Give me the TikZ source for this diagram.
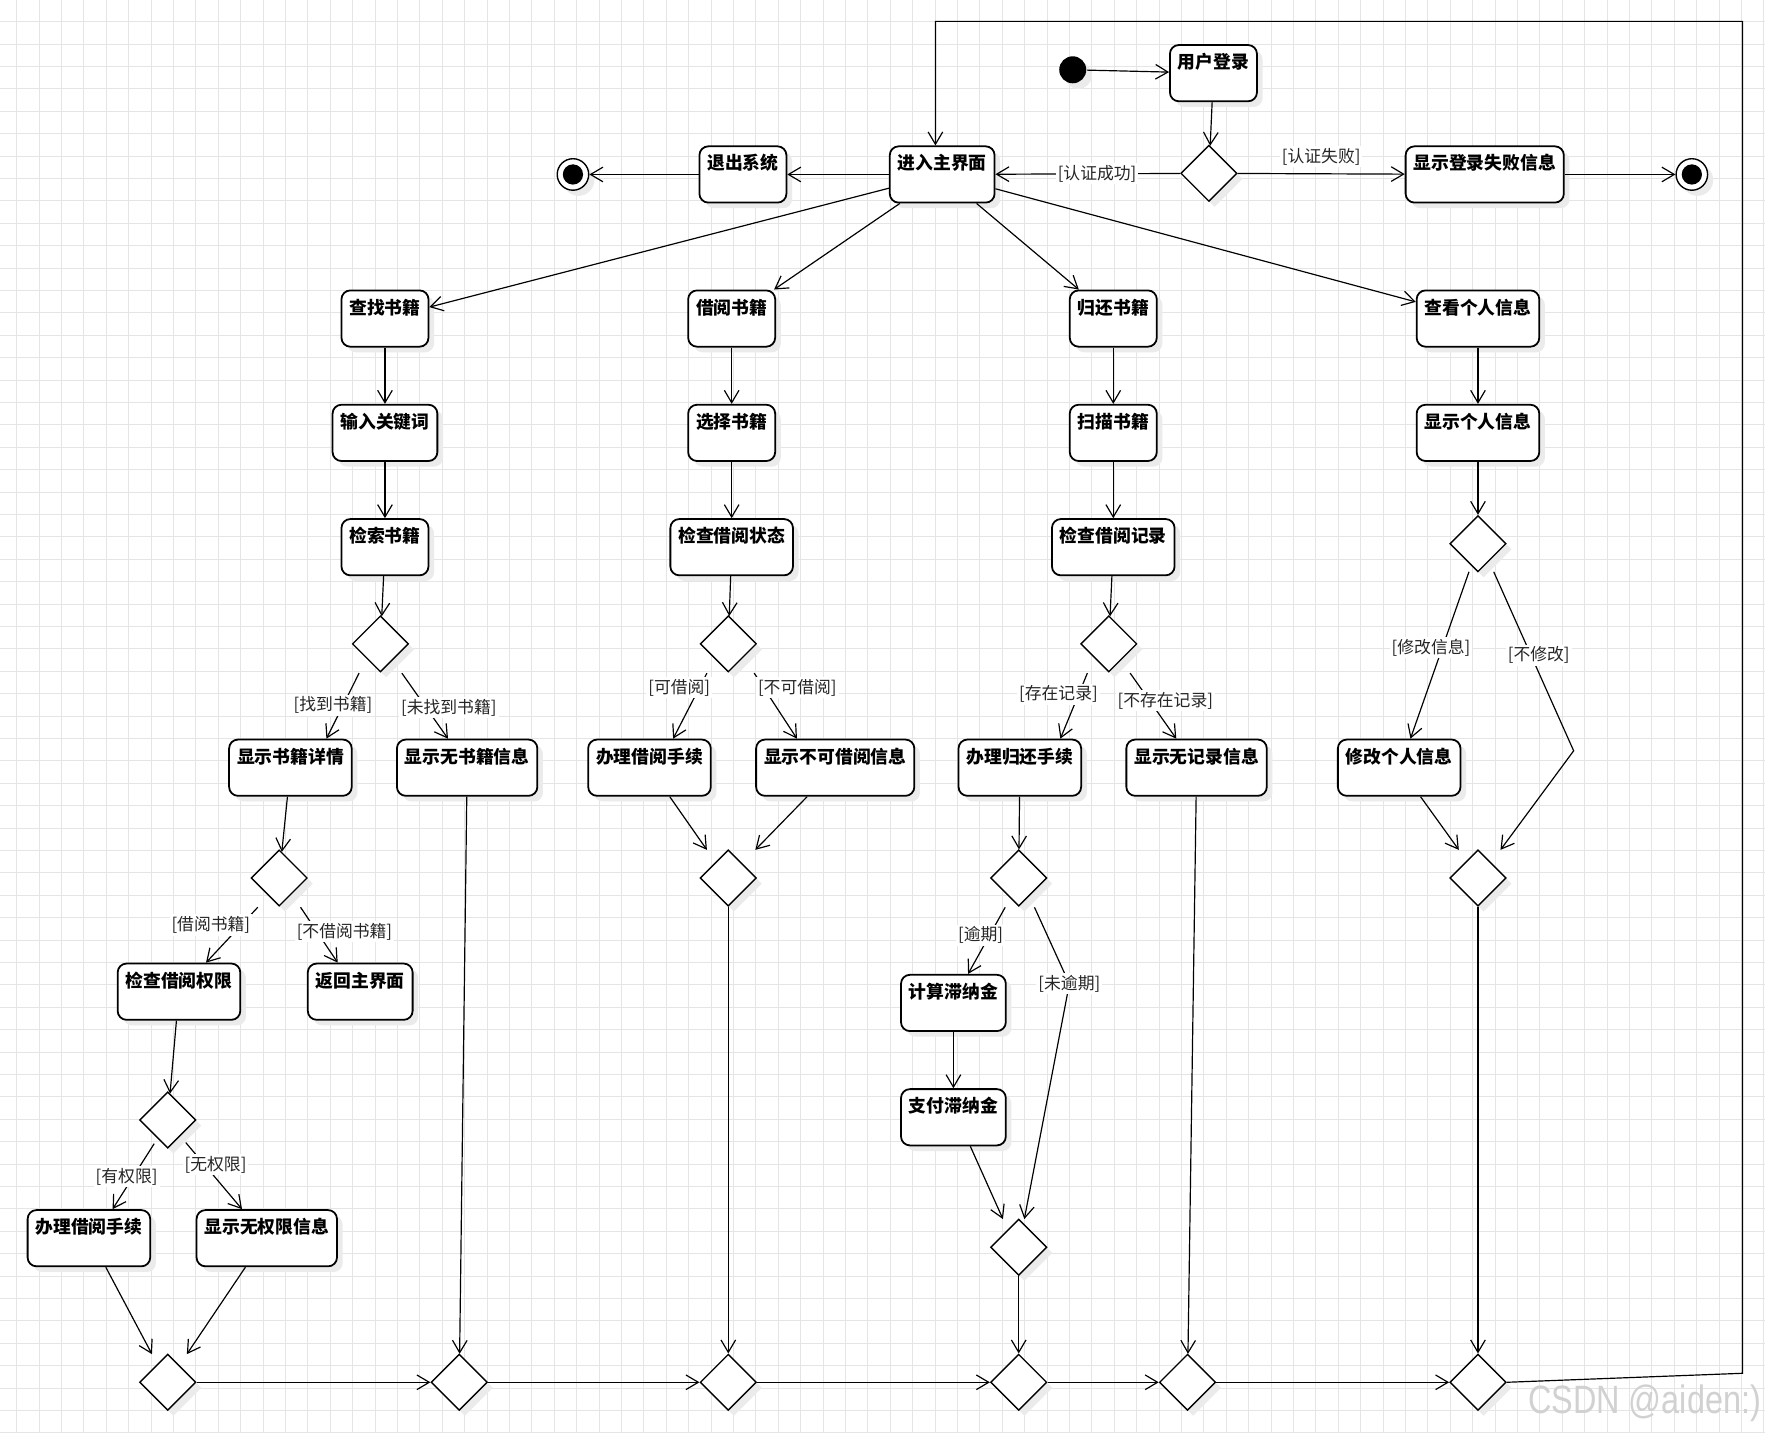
\documentclass[tikz,border=0pt]{standalone}
\usepackage{fontspec}
\newfontfamily\cjk{Noto Sans CJK SC}
\newfontfamily\wmfont{Liberation Sans}
\usepackage{tikz}
\usetikzlibrary{positioning}
\usetikzlibrary{shapes.geometric}
\usetikzlibrary{arrows.meta}
\usetikzlibrary{shadows}
\usetikzlibrary{calc}

\begin{document}
\begin{tikzpicture}[
                          x=0.02cm, y=-0.02cm,
                          >={Straight Barb[length=2.2mm,width=2.6mm]},
                          line width=0.6pt,
                          node distance=1cm,
                          softshadow/.style={drop shadow={shadow xshift=0.1cm, shadow yshift=-0.1cm, opacity=1, fill=black!8}},
                          actnode/.style={rectangle, draw, rounded corners=4.5pt, line width=0.9pt, fill=white, softshadow, font=\cjk\bfseries\fontsize{9}{9}\selectfont, inner xsep=4pt, inner ysep=0pt, text height=0.42cm, text depth=0.58cm},
                          decnode/.style={diamond, draw, line width=0.7pt, fill=white, softshadow, minimum width=1cm, minimum height=1cm, inner sep=0pt},
                          initnode/.style={circle, fill=black, softshadow, minimum size=0.48cm, inner sep=0pt},
                          finalnode/.style={circle, draw, line width=0.7pt, fill=white, softshadow, minimum size=0.56cm, inner sep=0pt, path picture={\fill[black] (path picture bounding box.center) circle (0.18cm);}},
                          guardlabel/.style={font=\cjk\fontsize{8.5}{8.5}\selectfont, text=black!85, fill=white, inner sep=1pt},
                          gridline/.style={line width=0.5pt, black!10},
                      ]
                      %Background
                      \useasboundingbox (0,0) rectangle (1568,1273);
                      \fill[white] (0,0) rectangle (1568,1273);
                      \foreach \k in {0,...,78} \draw[gridline] ({14.8+19.9*\k},0) -- ({14.8+19.9*\k},1273);
                      \foreach \k in {0,...,63} \draw[gridline] (0,{19.3+19.9*\k}) -- (1568,{19.3+19.9*\k});

                      %Nodes
                      \node[initnode]        (start)    at (953,62)        {};
                      \node[actnode]         (login)    at (1078,65)       {用户登录};
                      \node[decnode]         (dlogin)   at (1074,154)      {};
                      \node[actnode]         (fail)     at (1319,155)      {显示登录失败信息};
                      \node[finalnode]       (endR)     at (1503,155)      {};
                      \node[actnode]         (main)     at (837,155)       {进入主界面};
                      \node[actnode]         (quit)     at (660,155)       {退出系统};
                      \node[finalnode]       (endL)     at (509,155)       {};

                      \node[actnode]         (find)     at (342,283)       {查找书籍};
                      \node[actnode]         (keyword)  [below=of find]    {输入关键词};
                      \node[actnode]         (search)   [below=of keyword] {检索书籍};
                      \node[decnode]         (dfind)    at (338,572)       {};
                      \node[actnode]         (detail)   at (258,682)       {显示书籍详情};
                      \node[actnode]         (nobook)   at (415,682)       {显示无书籍信息};
                      \node[decnode]         (ddetail)  at (248,780)       {};
                      \node[actnode]         (perm)     at (159,881)       {检查借阅权限};
                      \node[actnode]         (back)     at (320,881)       {返回主界面};
                      \node[decnode]         (dperm)    at (149,995)       {};
                      \node[actnode]         (lendA)    at (79,1100)       {办理借阅手续};
                      \node[actnode]         (noperm)   at (237,1100)      {显示无权限信息};

                      \node[actnode]         (borrow)   at (650,283)       {借阅书籍};
                      \node[actnode]         (choose)   [below=of borrow]  {选择书籍};
                      \node[actnode]         (status)   [below=of choose]  {检查借阅状态};
                      \node[decnode]         (dborrow)  at (647,572)       {};
                      \node[actnode]         (lendB)    at (577,682)       {办理借阅手续};
                      \node[actnode]         (cannot)   at (742,682)       {显示不可借阅信息};
                      \node[decnode]         (dlend)    at (647,780)       {};

                      \node[actnode]         (giveback) at (989,283)       {归还书籍};
                      \node[actnode]         (scan)     [below=of giveback] {扫描书籍};
                      \node[actnode]         (record)   [below=of scan]    {检查借阅记录};
                      \node[decnode]         (dret)     at (985,572)       {};
                      \node[actnode]         (retproc)  at (906,682)       {办理归还手续};
                      \node[actnode]         (norec)    at (1063,682)      {显示无记录信息};
                      \node[decnode]         (dlate)    at (905,780)       {};
                      \node[actnode]         (fine)     at (847,891)       {计算滞纳金};
                      \node[actnode]         (pay)      [below=of fine]    {支付滞纳金};
                      \node[decnode]         (dpay)     at (905,1108)      {};

                      \node[actnode]         (view)     at (1313,283)      {查看个人信息};
                      \node[actnode]         (showinfo) [below=of view]    {显示个人信息};
                      \node[decnode]         (dinfo)    at (1313,483)      {};
                      \node[actnode]         (edit)     at (1243,682)      {修改个人信息};
                      \node[decnode]         (dedit)    at (1313,780)      {};

                      \node[decnode]         (m1)       at (149,1228)      {};
                      \node[decnode]         (m2)       at (408,1228)      {};
                      \node[decnode]         (m3)       at (647,1228)      {};
                      \node[decnode]         (m4)       at (905,1228)      {};
                      \node[decnode]         (m5)       at (1055,1228)     {};
                      \node[decnode]         (m6)       at (1313,1228)     {};

                      \node[text=black!18, font=\wmfont\fontsize{20}{20}\selectfont] (mark) at (1461,1247) {\scalebox{0.82}[1]{CSDN @aiden:)}};

                      %Lines
                      \draw[->] (start) -- (login);
                      \draw[->] (login) -- (dlogin);
                      \draw[->] (dlogin) -- node[guardlabel, pos=.45] {[认证成功]} (main);
                      \draw[->] (dlogin) -- node[guardlabel, above=3pt] {[认证失败]} (fail);
                      \draw[->] (fail) -- (endR);
                      \draw[->] (main) -- (quit);
                      \draw[->] (quit) -- (endL);
                      \draw[->] (main) -- (find);
                      \draw[->] (main) -- (borrow);
                      \draw[->] (main) -- (giveback);
                      \draw[->] (main) -- (view);

                      \draw[->] (find) -- (keyword);
                      \draw[->] (keyword) -- (search);
                      \draw[->] (search) -- (dfind);
                      \draw[->] ($(dfind)+(-19,26)$) -- node[guardlabel, pos=.49, xshift=-0.18cm] {[找到书籍]} ($(detail.north)+(32,0)$);
                      \draw[->] ($(dfind)+(19,26)$) -- node[guardlabel, pos=.53, xshift=0.4cm] {[未找到书籍]} ($(nobook.north)+(-17,0)$);
                      \draw[->] (detail) -- (ddetail);
                      \draw[->] ($(ddetail)+(-19,26)$) -- node[guardlabel, pos=.32, xshift=-0.54cm] {[借阅书籍]} ($(perm.north)+(24,0)$);
                      \draw[->] ($(ddetail)+(19,26)$) -- node[guardlabel, pos=.44, xshift=0.49cm] {[不借阅书籍]} ($(back.north)+(-20,0)$);
                      \draw[->] (perm) -- (dperm);
                      \draw[->] ($(dperm)+(-12,21)$) -- node[guardlabel, pos=.5, xshift=-0.12cm] {[有权限]} ($(lendA.north)+(21,0)$);
                      \draw[->] ($(dperm)+(16,20)$) -- node[guardlabel, pos=.33, xshift=0.2cm] {[无权限]} ($(noperm.north)+(-22,0)$);
                      \draw[->] ($(lendA.south)+(15,0)$) -- ($(m1)+(-14,-25)$);
                      \draw[->] ($(noperm.south)+(-19,0)$) -- ($(m1)+(17,-25)$);
                      \draw[->] (nobook) -- (m2);

                      \draw[->] (borrow) -- (choose);
                      \draw[->] (choose) -- (status);
                      \draw[->] (status) -- (dborrow);
                      \draw[->] ($(dborrow)+(-19,26)$) -- node[guardlabel, pos=.22, xshift=-0.36cm] {[可借阅]} ($(lendB.north)+(21,0)$);
                      \draw[->] ($(dborrow)+(23,26)$) -- node[guardlabel, pos=.22, xshift=0.6cm] {[不可借阅]} ($(cannot.north)+(-34,0)$);
                      \draw[->] ($(lendB.south)+(18,0)$) -- ($(dlend)+(-19,-25)$);
                      \draw[->] ($(cannot.south)+(-25,0)$) -- ($(dlend)+(24,-25)$);
                      \draw[->] (dlend) -- (m3);

                      \draw[->] (giveback) -- (scan);
                      \draw[->] (scan) -- (record);
                      \draw[->] (record) -- (dret);
                      \draw[->] ($(dret)+(-19,26)$) -- node[guardlabel, pos=.32, xshift=-0.36cm] {[存在记录]} ($(retproc.north)+(36,0)$);
                      \draw[->] ($(dret)+(19,26)$) -- node[guardlabel, pos=.42, xshift=0.28cm] {[不存在记录]} ($(norec.north)+(-18,0)$);
                      \draw[->] (retproc) -- (dlate);
                      \draw[->] ($(dlate)+(-12,26)$) -- node[guardlabel, pos=.42, xshift=-0.16cm] {[逾期]} ($(fine.north)+(13,0)$);
                      \draw[->] ($(dlate)+(14,26)$) -- (950,874) node[guardlabel] {[未逾期]} -- ($(dpay)+(5,-25)$);
                      \draw[->] (fine) -- (pay);
                      \draw[->] ($(pay.south)+(15,0)$) -- ($(dpay)+(-14,-25)$);
                      \draw[->] (dpay) -- (m4);
                      \draw[->] (norec) -- (m5);

                      \draw[->] (view) -- (showinfo);
                      \draw[->] (showinfo) -- (dinfo);
                      \draw[->] ($(dinfo)+(-8,25)$) -- node[guardlabel, pos=.456, xshift=-0.2cm] {[修改信息]} ($(edit.north)+(10,0)$);
                      \draw[->] ($(dinfo)+(14,25)$) -- node[guardlabel, pos=.465, xshift=0.14cm] {[不修改]} (1398,667) -- ($(dedit)+(20,-25)$);
                      \draw[->] ($(edit.south)+(19,0)$) -- ($(dedit)+(-17,-25)$);
                      \draw[->] (dedit) -- (m6);

                      \draw[->] (m1) -- (m2);
                      \draw[->] (m2) -- (m3);
                      \draw[->] (m3) -- (m4);
                      \draw[->] (m4) -- (m5);
                      \draw[->] (m5) -- (m6);
                      \draw[->] (m6.east) -- (1548,1220) -- (1548,19) -| ($(main.north)+(-6,0)$);
                  \end{tikzpicture}
\end{document}
